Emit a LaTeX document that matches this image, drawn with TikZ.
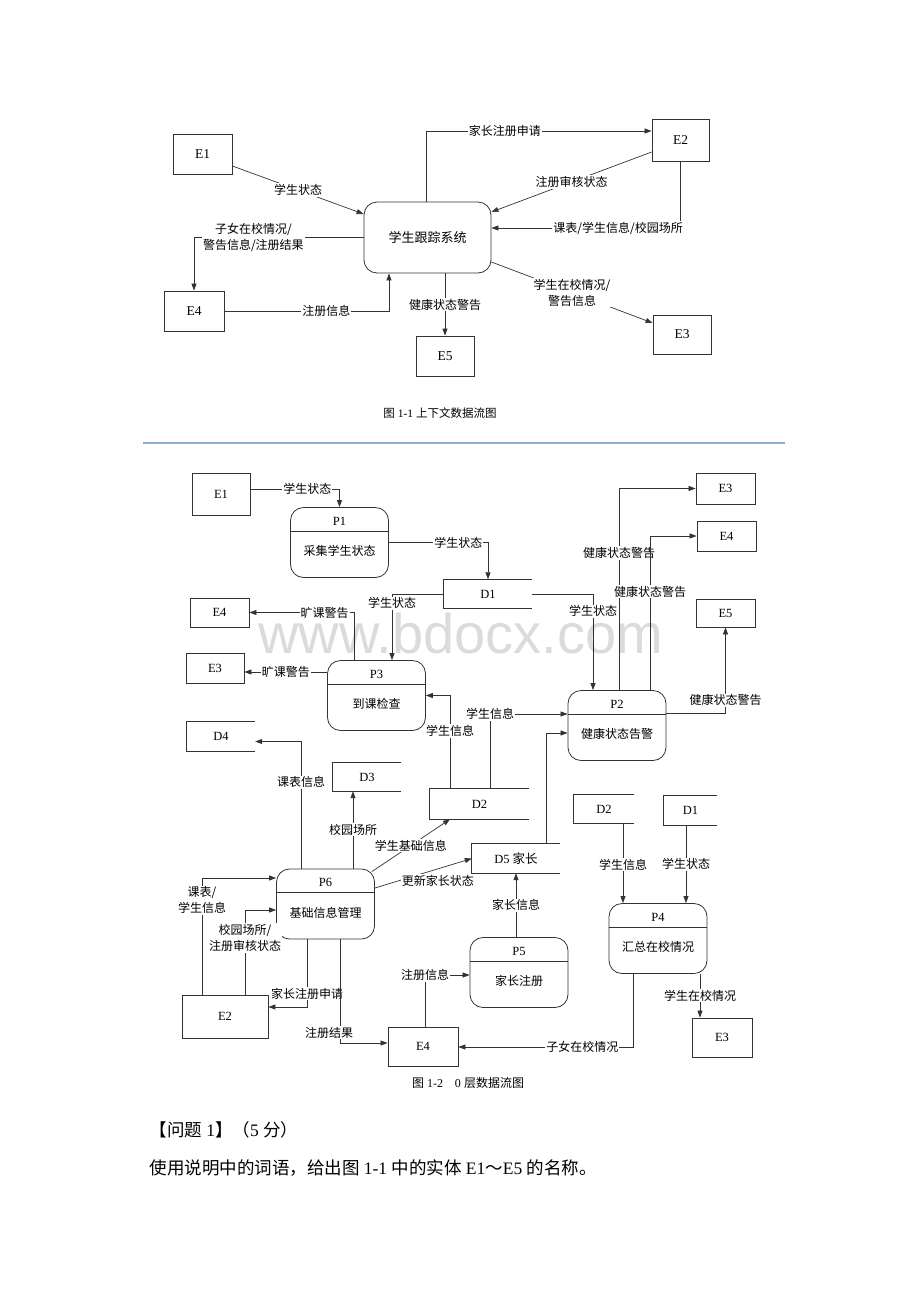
\documentclass[tikz,border=0pt]{standalone}
\usepackage{fontspec}
\setmainfont{Liberation Serif}
\newfontfamily\cjk{Noto Sans CJK SC}
\newfontfamily\wmfont{Liberation Sans}
\usetikzlibrary{arrows.meta}
\usetikzlibrary{calc}

\definecolor{sepblue}{RGB}{143,173,212}
\newcommand{\zh}[1]{{\cjk #1}}

\tikzset{
  ent/.style={draw=black!80, line width=0.8pt, inner sep=0pt, font=\fontsize{12.5}{14}\selectfont},
  entc/.style={ent, font=\fontsize{13.5}{15}\selectfont},
  sys/.style={draw=black!80, line width=0.8pt, rounded corners=13pt, minimum width=127pt, minimum height=71pt, font=\cjk\fontsize{13}{15}\selectfont},
  proc/.style={draw=black!80, line width=0.8pt, rounded corners=13pt, inner sep=0pt, minimum width=98pt, minimum height=70pt},
  store/.style={inner sep=0pt, minimum height=29pt, font=\fontsize{12.5}{14}\selectfont},
  storeline/.style={draw=black!80, line width=0.8pt},
  lab/.style={font=\cjk\fontsize{12}{16}\selectfont, fill=white, inner sep=1pt, align=center},
  flow/.style={draw=black!80, line width=0.7pt, -{Triangle[length=7pt,width=5pt]}},
}

\begin{document}
\begin{tikzpicture}[x=1pt, y=-1pt]
\useasboundingbox (0,0) rectangle (920,1302);

% context diagram
\node[entc, minimum width=59pt, minimum height=40pt] (E1c) at (202.5,154) {E1};
\node[entc, minimum width=57pt, minimum height=42pt] (E2c) at (680.5,140) {E2};
\node[entc, minimum width=58pt, minimum height=39pt] (E3c) at (682,334.5) {E3};
\node[entc, minimum width=60pt, minimum height=40pt] (E4c) at (194,311) {E4};
\node[entc, minimum width=58pt, minimum height=40pt] (E5c) at (445,356) {E5};
\node[sys] (SYS) at (427.5,237.5) {学生跟踪系统};

\draw[flow] ([yshift=-12pt]E1c.east) -- node[lab] (la) {学生状态} ([yshift=23.5pt]SYS.west);
\draw[flow] ([xshift=-1.5pt]SYS.north) |- node[lab, pos=0.675] (lb) {家长注册申请} ([yshift=9pt]E2c.west);
\draw[flow] ([yshift=-12pt]E2c.west) -- node[lab] (lc) {注册审核状态} ([yshift=25.5pt]SYS.east);
\draw[flow] (E2c.south) |- node[lab, pos=0.665] (ld) {课表/学生信息/校园场所} ([yshift=9.5pt]SYS.east);
\draw[flow] ([yshift=-24.5pt]SYS.east) -- node[lab] (le) {学生在校情况/\\警告信息} ([yshift=11.5pt]E3c.west);
\draw[flow] (E5c.north |- SYS.south) -- node[lab] (lf) {健康状态警告} (E5c.north);
\draw[flow] (SYS.west) -| node[lab, pos=0.325] (lg) {子女在校情况/\\警告信息/注册结果} (E4c.north);
\draw[flow] (E4c.east) -| node[lab, pos=0.31] (lh) {注册信息} ([xshift=-38.5pt]SYS.south);

\node[font=\fontsize{11.5}{13}\selectfont] (cap1) at (440,413) {\zh{图} 1-1 \zh{上下文数据流图}};
\draw[sepblue, line width=1.5pt] (143,443) -- (785,443);

% level 0 diagram
% entities
\node[ent, minimum width=58pt, minimum height=42pt] (E1) at (221,494) {E1};
\node[ent, minimum width=59pt, minimum height=29pt] (E4L) at (219.5,612.5) {E4};
\node[ent, minimum width=58pt, minimum height=30pt] (E3L) at (215,668) {E3};
\node[ent, minimum width=59pt, minimum height=31pt] (E3R) at (725.5,488.5) {E3};
\node[ent, minimum width=59pt, minimum height=30pt] (E4R) at (726.5,536) {E4};
\node[ent, minimum width=59pt, minimum height=28pt] (E5R) at (725.5,613) {E5};
\node[ent, minimum width=86pt, minimum height=43pt] (E2) at (225,1016.5) {E2};
\node[ent, minimum width=70pt, minimum height=39pt] (E4) at (423,1046.5) {E4};
\node[ent, minimum width=60pt, minimum height=39pt] (E3) at (722,1037.5) {E3};

% data stores
\node[store, minimum width=88pt] (D1) at (488,594) {D1};
\node[store, minimum width=68pt] (D4) at (221,736.5) {D4};
\node[store, minimum width=68pt, minimum height=28pt] (D3) at (367,777) {D3};
\node[store, minimum width=99pt, minimum height=30pt] (D2) at (479.5,804) {D2};
\node[store, minimum width=88pt] (D5) at (516,858.5) {D5 \zh{家长}};
\node[store, minimum width=60pt, minimum height=28pt] (D2b) at (604,809) {D2};
\node[store, minimum width=53pt] (D1b) at (690.5,810.5) {D1};
\foreach \s in {D1,D2,D3,D4,D5,D1b,D2b}
  \draw[storeline] (\s.north east) -- (\s.north west) -- (\s.south west) -- (\s.south east);

% processes
\node[proc] (P1) at (339.5,542.5) {};
\node[proc] (P3) at (376.5,695.5) {};
\node[proc] (P2) at (617,725.5) {};
\node[proc] (P6) at (325.5,904) {};
\node[proc] (P5) at (519,972.5) {};
\node[proc] (P4) at (658,938.5) {};
\foreach \p/\t in {P1/采集学生状态, P2/健康状态告警, P3/到课检查, P4/汇总在校情况, P5/家长注册, P6/基础信息管理} {
  \draw[storeline] ($(\p.north west)!0.34!(\p.south west)$) -- ($(\p.north east)!0.34!(\p.south east)$);
  \node[font=\fontsize{12.5}{14}\selectfont] (\p-id) at ($(\p.north)!0.2!(\p.south)$) {\p};
  \node[font=\cjk\fontsize{12}{14}\selectfont] (\p-tx) at ($(\p.north)!0.62!(\p.south)$) {\t};
}

% flows
\draw[flow] ([yshift=5pt]E1.east) -| node[lab, pos=0.32] (m1) {学生状态} (P1.north);
\draw[flow] (P1.east) -| node[lab, pos=0.35] (m2) {学生状态} (D1.north);
\draw[flow] (D1.west) -| node[lab, pos=0.57] (m3) {学生状态} ([xshift=15.5pt]P3.north);
\draw[flow] (D1.east) -| node[lab, pos=0.59] (m4) {学生状态} ([xshift=-24pt]P2.north);
\draw[flow] ([xshift=-22.5pt]P3.north) |- node[lab, pos=0.64] (m5) {旷课警告} (E4L.east);
\draw[flow] ([yshift=23.5pt]P3.west) -- node[lab] (m6) {旷课警告} ([yshift=-4pt]E3L.east);
\draw[flow] ([xshift=-24.5pt]P6.north) |- node[lab, pos=0.34] (m7) {课表信息} ([yshift=-5pt]D4.east);
\draw[flow] ([xshift=27.5pt]P6.north) -- node[lab] (m8) {校园场所} ([xshift=-14pt]D3.south);
\draw[flow] ([xshift=-3pt,yshift=-3pt]P6.north east) -- node[lab] (m9) {学生基础信息} ([xshift=-29.5pt]D2.south);
\draw[flow] ([yshift=16pt]P6.east) -- node[lab, pos=0.65, yshift=-12pt] (m10) {更新家长状态} (D5.west);
\draw[flow] ([xshift=-29.5pt]D2.north) |- node[lab, pos=0.31] (m11) {学生信息} (P3.east);
\draw[flow] ([xshift=10.5pt]D2.north) |- node[lab] (m12) {学生信息} ([yshift=11.5pt]P2.west);
\draw[flow] ([xshift=30pt]D5.north) |- ([yshift=-7.5pt]P2.west);
\draw[flow] ([xshift=2pt]P2.north) |- node[lab, pos=0.34] (m14) {健康状态警告} (E3R.west);
\draw[flow] ([xshift=33pt]P2.north) |- node[lab, pos=0.32] (m15) {健康状态警告} (E4R.west);
\draw[flow] ([yshift=12.5pt]P2.east) -| node[lab, pos=0.575] (m16) {健康状态警告} (E5R.south);
\draw[flow] ([xshift=-23pt]E2.north) |- node[lab, pos=0.405] (m17) {课表/\\学生信息} ([yshift=26pt]P6.west);
\draw[flow] ([xshift=20pt]E2.north) |- node[lab, pos=0.335] (m18) {校园场所/\\注册审核状态} ([yshift=-6pt]P6.west);
\draw[flow] ([xshift=-18.5pt]P6.south) |- node[lab, pos=0.4] (m19) {家长注册申请} ([yshift=9.5pt]E2.east);
\draw[flow] ([xshift=14.5pt]P6.south) |- node[lab, pos=0.45, xshift=-11pt] (m20) {注册结果} ([yshift=3.5pt]E4.west);
\draw[flow] ([xshift=2pt]E4.north) |- node[lab] (m21) {注册信息} ([yshift=-2.5pt]P5.west);
\draw[flow] (P5.north -| D5.south) -- node[lab] (m22) {家长信息} (D5.south);
\draw[flow] ([xshift=19pt]D2b.south) -- node[lab, pos=0.52] (m23) {学生信息} ([xshift=-35pt]P4.north);
\draw[flow] ([xshift=-4.5pt]D1b.south) -- node[lab] (m24) {学生状态} ([xshift=28pt]P4.north);
\draw[flow] ([xshift=42pt]P4.south) -- node[lab] (m25) {学生在校情况} ([xshift=-22pt]E3.north);
\draw[flow] ([xshift=-25pt]P4.south) |- node[lab, pos=0.645] (m26) {子女在校情况} ([yshift=-0.5pt]E4.east);

\node[font=\fontsize{12}{14}\selectfont] (cap2) at (468,1083) {\zh{图} 1-2\quad 0 \zh{层数据流图}};

% question
\node[anchor=west, font=\fontsize{17.5}{20}\selectfont] (q1) at (146,1130) {\zh{【问题} 1\zh{】（}5 \zh{分）}};
\node[anchor=west, font=\fontsize{17.5}{20}\selectfont] (q2) at (146,1168) {\zh{使用说明中的词语，给出图} 1-1 \zh{中的实体} E1\zh{～}E5 \zh{的名称。}};

% watermark
\node[anchor=base west, font=\wmfont\fontsize{56}{60}\selectfont, text=black, text opacity=0.14] (wm) at (255,653) {www.bdocx.com};

\end{tikzpicture}
\end{document}
